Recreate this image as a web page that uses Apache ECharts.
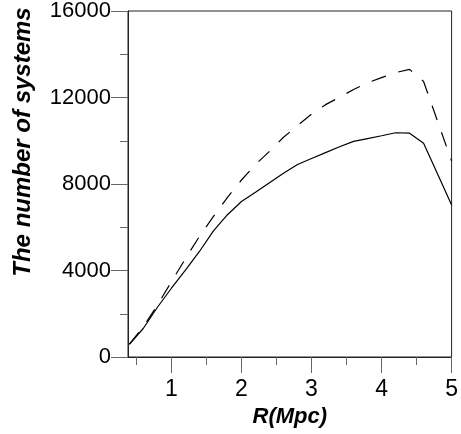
<!DOCTYPE html>
<html>
<head>
<meta charset="utf-8">
<script src="https://cdn.jsdelivr.net/npm/echarts@6/dist/echarts.min.js"></script>
<style>html,body{margin:0;padding:0;background:#fff}#c{width:461px;height:434px}</style>
</head>
<body>
<div id="c"></div>
<script>
const rValues = [0.4,0.6,0.8,1.0,1.2,1.4,1.6,1.8,2.0,2.2,2.4,2.6,2.8,3.0,3.2,3.4,3.6,3.8,4.0,4.2,4.4,4.6,4.8,5.0];
const solidCounts = [580,1330,2300,3180,4020,4880,5830,6580,7190,7620,8060,8500,8900,9180,9450,9720,9970,10100,10230,10370,10350,9880,8460,7030];
const dashedCounts = [600,1400,2400,3480,4550,5580,6500,7380,8185,8900,9510,10160,10700,11230,11670,12010,12370,12680,12920,13150,13300,12740,10900,9060];
const xLabelValues = [1,2,3,4,5];
const xMinorTickValues = [0.5,1.5,2.5,3.5,4.5];
const yTicks = {min:0, max:16000, interval:4000};
const xTitle = 'R(Mpc)';
const yTitle = 'The number of systems';

const font = '"Liberation Sans", Arial, sans-serif';
const chart = echarts.init(document.getElementById('c'), null, {renderer:'canvas'});
const pair = (xs, ys) => xs.map((x,i)=>[x, ys[i]]);
const axisLineStyle = {color:'#222', width:1};
const tickStyle = {color:'#666', width:1};
chart.setOption({
  animation:false,
  backgroundColor:'#fff',
  grid:{left:128, right:4, top:11, bottom:77, show:true, borderColor:'#222', borderWidth:1, backgroundColor:'transparent'},
  xAxis:[{
    type:'value', min:0.38, max:5, position:'bottom',
    axisLine:{show:true, lineStyle:axisLineStyle},
    axisTick:{show:true, inside:false, length:16, lineStyle:tickStyle, customValues:xLabelValues},
    axisLabel:{show:true, customValues:xLabelValues, margin:21, color:'#000', fontSize:23, fontFamily:font},
    splitLine:{show:false},
    name:xTitle, nameLocation:'middle', nameGap:45,
    nameTextStyle:{fontSize:22, fontWeight:'bold', fontStyle:'italic', color:'#000', fontFamily:font}
  },{
    type:'value', min:0.38, max:5, position:'bottom', offset:0,
    axisLine:{show:false},
    axisTick:{show:true, inside:false, length:8, lineStyle:tickStyle, customValues:xMinorTickValues},
    axisLabel:{show:false},
    splitLine:{show:false}
  }],
  yAxis:{
    type:'value', min:yTicks.min, max:yTicks.max, interval:yTicks.interval,
    axisLine:{show:true, lineStyle:axisLineStyle},
    axisTick:{show:true, inside:false, length:17, lineStyle:tickStyle},
    minorTick:{show:true, splitNumber:2, length:8, lineStyle:tickStyle},
    axisLabel:{margin:17, color:'#000', fontSize:22, fontFamily:font, formatter:(v)=>String(v)},
    splitLine:{show:false}
  },
  graphic:[{
    type:'text', x:23, y:142, rotation:Math.PI/2,
    style:{text:yTitle, fill:'#000', font:'italic bold 24px "Liberation Sans", Arial, sans-serif', align:'center', verticalAlign:'middle'}
  }],
  series:[{
    type:'line', xAxisIndex:0, data:pair(rValues, dashedCounts), showSymbol:false,
    lineStyle:{color:'#000', width:1.2, type:[15,13]}
  },{
    type:'line', xAxisIndex:0, data:pair(rValues, solidCounts), showSymbol:false,
    lineStyle:{color:'#000', width:1.2, type:'solid'}
  }]
});
</script>
</body>
</html>
